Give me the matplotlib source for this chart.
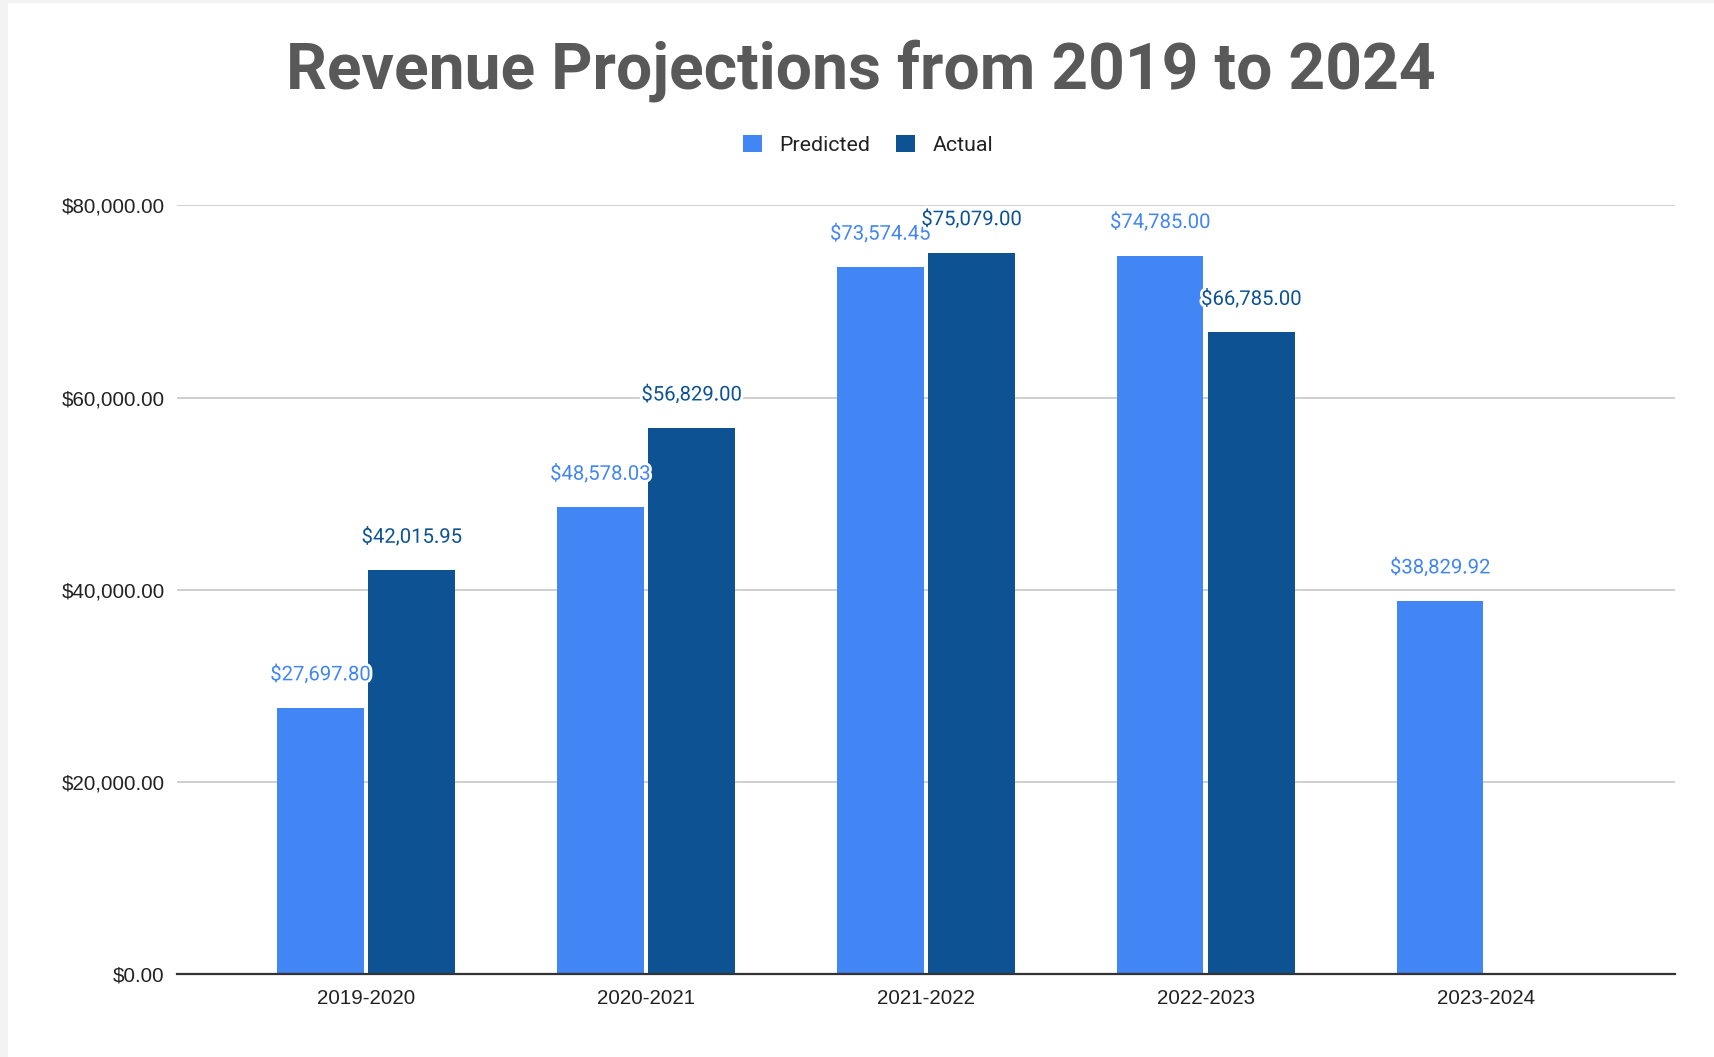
import matplotlib
matplotlib.use("Agg")
import matplotlib.pyplot as plt
import matplotlib.patheffects as pe
from matplotlib.patches import Rectangle
from matplotlib.ticker import FuncFormatter
import numpy as np

# Data
periods = ["2019-2020", "2020-2021", "2021-2022", "2022-2023", "2023-2024"]
predicted = [27697.80, 48578.03, 73574.45, 74785.00, 38829.92]
actual = [42015.95, 56829.00, 75079.00, 66785.00, None]
y_ticks = [0, 20000, 40000, 60000, 80000]

c_pred = "#4285f4"
c_act = "#0d5394"

fig = plt.figure(figsize=(17.14, 10.57), dpi=100)
fig.patch.set_facecolor("white")

# light gray frame strip on left / top like the screenshot
fig.patches.append(Rectangle((0, 0), 8 / 1714, 1, transform=fig.transFigure,
                             facecolor="#f3f3f3", edgecolor="none"))
fig.patches.append(Rectangle((0, 1 - 3 / 1057), 1, 3 / 1057, transform=fig.transFigure,
                             facecolor="#f3f3f3", edgecolor="none"))

ax = fig.add_axes([0.1033, 0.0785, 0.8737, 0.7271])

x = np.arange(len(periods))
w = 0.31
off = 0.163

pred_bars = ax.bar(x - off, predicted, width=w, color=c_pred, label="Predicted", zorder=3)
act_x = [xi + off for xi, v in zip(x, actual) if v is not None]
act_v = [v for v in actual if v is not None]
act_bars = ax.bar(act_x, act_v, width=w, color=c_act, label="Actual", zorder=3)

halo = [pe.withStroke(linewidth=4, foreground="white")]


def money(v):
    return "${:,.2f}".format(v)


for b, v in zip(pred_bars, predicted):
    ax.annotate(money(v), (b.get_x() + b.get_width() / 2, v), xytext=(0, 17),
                textcoords="offset points", ha="center", va="bottom",
                fontsize=14.6, color=c_pred, family="Roboto", path_effects=halo, zorder=5)
for b, v in zip(act_bars, act_v):
    ax.annotate(money(v), (b.get_x() + b.get_width() / 2, v), xytext=(0, 17),
                textcoords="offset points", ha="center", va="bottom",
                fontsize=14.6, color=c_act, family="Roboto", path_effects=halo, zorder=6)

ax.set_xlim(-0.675, 4.675)
ax.set_ylim(0, 80000)
ax.set_yticks(y_ticks)
ax.yaxis.set_major_formatter(FuncFormatter(lambda v, p: money(v)))
ax.set_xticks(x)
ax.set_xticklabels(periods)

for s in ["top", "right", "left"]:
    ax.spines[s].set_visible(False)
ax.spines["bottom"].set_color("#333333")
ax.spines["bottom"].set_linewidth(1.6)
ax.spines["bottom"].set_zorder(4)

ax.grid(axis="y", color="#cccccc", linewidth=1.3, zorder=0)
ax.tick_params(axis="both", length=0, labelsize=14.8, labelcolor="#222222")
ax.tick_params(axis="y", pad=9)
ax.tick_params(axis="x", pad=11)
for lbl in ax.get_xticklabels() + ax.get_yticklabels():
    lbl.set_family("Liberation Sans")

fig.text(0.502, 0.933, "Revenue Projections from 2019 to 2024", ha="center", va="center",
         fontsize=46.2, fontweight="bold", color="#595959", family="Roboto")

leg = fig.legend(handles=[pred_bars, act_bars], labels=["Predicted", "Actual"],
                 loc="center", bbox_to_anchor=(0.5065, 0.863), ncol=2, frameon=False,
                 handlelength=0.9, handleheight=0.9, handletextpad=0.8,
                 columnspacing=1.2, prop={"family": "Roboto", "size": 15.4})
for t in leg.get_texts():
    t.set_color("#222222")

fig.savefig("out.png", dpi=100)
